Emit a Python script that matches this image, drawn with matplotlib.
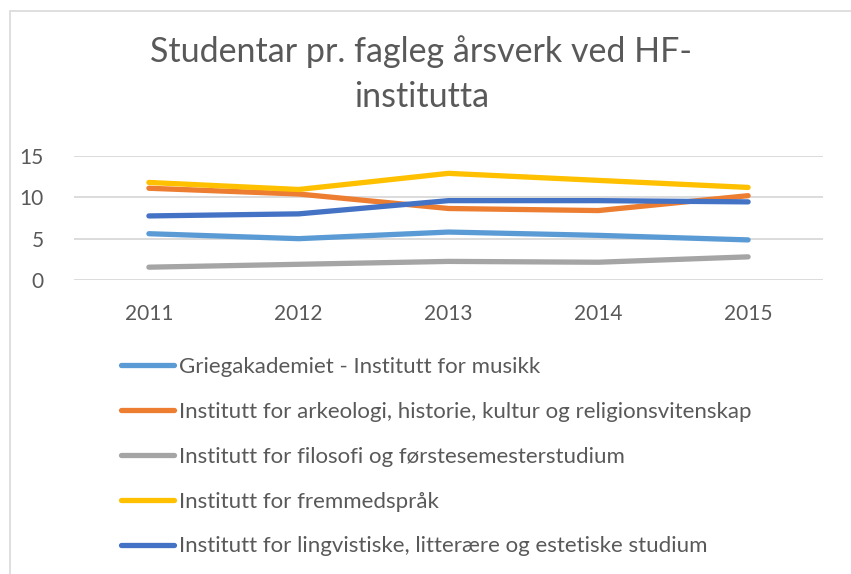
import matplotlib
matplotlib.use("Agg")
import matplotlib.pyplot as plt
from matplotlib.patches import Rectangle

plt.rcParams['font.family'] = ['Lato', 'DejaVu Sans']

years = ['2011', '2012', '2013', '2014', '2015']
musikk = [5.6, 5.0, 5.8, 5.4, 4.85]
arkeologi = [11.1, 10.4, 8.65, 8.4, 10.2]
filosofi = [1.55, 1.9, 2.25, 2.15, 2.8]
fremmedsprak = [11.8, 10.95, 12.9, 12.05, 11.2]
lingvistiske = [7.75, 8.0, 9.6, 9.6, 9.45]

labels = ['Griegakademiet - Institutt for musikk',
          'Institutt for arkeologi, historie, kultur og religionsvitenskap',
          'Institutt for filosofi og førstesemesterstudium',
          'Institutt for fremmedspråk',
          'Institutt for lingvistiske, litterære og estetiske studium']
colors = ['#5B9BD5', '#ED7D31', '#A5A5A5', '#FFC000', '#4472C4']
series = [musikk, arkeologi, filosofi, fremmedsprak, lingvistiske]

txt = '#595959'
fig = plt.figure(figsize=(8.51, 5.74), dpi=100)
fig.patches.append(Rectangle((10/851, -0.01), 1.0, 1 - 11/574 + 0.01,
                             transform=fig.transFigure, fill=False,
                             edgecolor='#D9D9D9', linewidth=1.2))

ax = fig.add_axes([74/851, 1 - 280/574, (823 - 74)/851, (280 - 156)/574])
x = range(len(years))
handles = []
for vals, c, lab in zip(series, colors, labels):
    h, = ax.plot(x, vals, color=c, linewidth=3.8, solid_capstyle='round',
                 label=lab, clip_on=False, zorder=3)
    handles.append(h)

ax.set_xlim(-0.5, 4.5)
ax.set_ylim(0, 15)
ax.set_yticks([0, 5, 10, 15])
ax.set_xticks(list(x))
ax.set_xticklabels(years)
ax.grid(axis='y', color='#D9D9D9', linewidth=1.3)
ax.set_axisbelow(True)
for s in ax.spines.values():
    s.set_visible(False)
ax.tick_params(length=0, labelsize=15, colors=txt, pad=17)
ax.tick_params(axis='y', pad=22)

fig.text(0.495, 1 - 74/574, 'Studentar pr. fagleg årsverk ved HF-\ninstitutta',
         ha='center', va='center', fontsize=24.5, color=txt,
         linespacing=1.5)

fig.legend(handles, labels, loc='upper left', bbox_to_anchor=(112/851, 1 - 348/574),
           frameon=False, fontsize=16, labelcolor=txt, handlelength=2.4,
           handletextpad=0.2, labelspacing=1.12, borderaxespad=0)

fig.savefig('out.png', dpi=100)
